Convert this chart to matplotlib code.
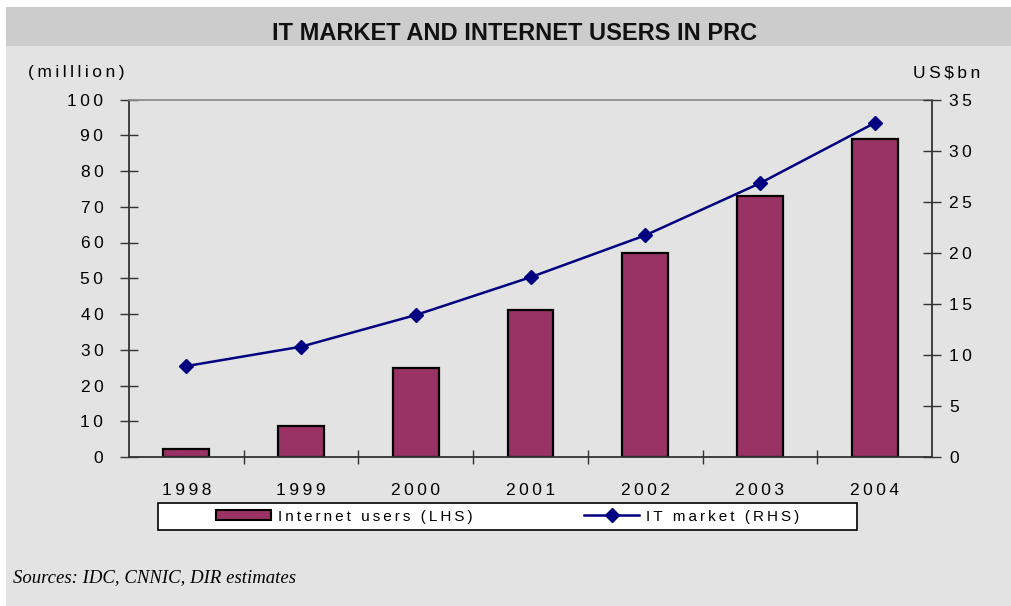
import numpy as np
import matplotlib
matplotlib.use("Agg")
import matplotlib.pyplot as plt
from matplotlib.patches import Rectangle
from matplotlib.lines import Line2D
from matplotlib.ticker import FixedLocator

years = ["1998", "1999", "2000", "2001", "2002", "2003", "2004"]
internet_users = [2.3, 8.7, 25.0, 41.0, 57.0, 73.0, 89.0]   # million, LHS
it_market = [8.9, 10.8, 13.9, 17.6, 21.7, 26.8, 32.7]       # US$bn, RHS
lhs_ticks = [0, 10, 20, 30, 40, 50, 60, 70, 80, 90, 100]
rhs_ticks = [0, 5, 10, 15, 20, 25, 30, 35]

plt.rcParams['font.family'] = ['Liberation Sans', 'DejaVu Sans']

BAR_COLOR = "#993366"
LINE_COLOR = "#000080"
BG = "#e3e3e3"


def spaced(s, sep="\u2009"):
    # old Excel charts draw text with wide letter spacing
    return sep.join(list(s))


fig = plt.figure(figsize=(10.12, 6.06), dpi=100, facecolor="white")
W, H = 1012, 606

# panel background and title band
fig.patches.append(Rectangle((6 / W, 0), 1 - 6 / W, (H - 7) / H, transform=fig.transFigure,
                             facecolor=BG, edgecolor="none", zorder=-10))
fig.patches.append(Rectangle((6 / W, (H - 46) / H), 1 - 6 / W, 39 / H, transform=fig.transFigure,
                             facecolor="#cccccc", edgecolor="none", zorder=-9))
fig.text(0.508, (H - 33) / H, "IT MARKET AND INTERNET USERS IN PRC", ha="center", va="center",
         fontsize=17, fontweight="bold", color="#111111")

ax = fig.add_axes([129 / W, (H - 457) / H, (932 - 129) / W, (457 - 99.5) / H])
ax.patch.set_alpha(0)
x = np.arange(len(years))

ax.bar(x, internet_users, width=0.4, color=BAR_COLOR, edgecolor="black", linewidth=1.6, zorder=2)
ax.set_xlim(-0.5, len(years) - 0.5)
ax.set_ylim(0, 100)
ax.set_yticks(lhs_ticks)
ax.set_yticklabels([spaced(str(t)) for t in lhs_ticks], fontsize=12.5)
ax.set_xticks(x)
ax.set_xticklabels([spaced(y) for y in years], fontsize=12.5)
ax.tick_params(axis="x", which="major", length=0, pad=19)
ax.xaxis.set_minor_locator(FixedLocator(x[:-1] + 0.5))
ax.tick_params(axis="x", which="minor", direction="inout", length=9.5, width=1, color="#333333")
ax.tick_params(axis="y", direction="inout", length=13, width=1, color="#333333", pad=12)

for side in ["left", "bottom", "right"]:
    ax.spines[side].set_color("#333333")
    ax.spines[side].set_linewidth(1.3)
ax.spines["top"].set_color("#8c8c8c")
ax.spines["top"].set_linewidth(1.3)

ax2 = ax.twinx()
ax2.plot(x, it_market, color=LINE_COLOR, linewidth=1.8, marker="D", markersize=7, zorder=3)
ax2.set_ylim(0, 35)
ax2.set_yticks(rhs_ticks)
ax2.set_yticklabels([spaced(str(t)) for t in rhs_ticks], fontsize=12.5)
ax2.tick_params(axis="y", direction="inout", length=13, width=1, color="#333333", pad=6)
for side in ["left", "bottom", "top", "right"]:
    ax2.spines[side].set_visible(False)

fig.text(28 / W, (H - 73) / H, spaced("(milllion)"), ha="left", va="center", fontsize=12.5)
fig.text(980 / W, (H - 73) / H, spaced("US$bn"), ha="right", va="center", fontsize=12.5)

# legend box
fig.patches.append(Rectangle((158 / W, (H - 530) / H), (857 - 158) / W, 27 / H, transform=fig.transFigure,
                             facecolor="white", edgecolor="black", linewidth=1.2, zorder=1))
handles = [Rectangle((0, 0), 1, 1, facecolor=BAR_COLOR, edgecolor="black", linewidth=1.5),
           Line2D([0], [0], color=LINE_COLOR, linewidth=1.8, marker="D", markersize=7)]
labels = [spaced("Internet users (LHS)"), spaced("IT market (RHS)")]
fig.legend(handles, labels, loc="center", bbox_to_anchor=(508 / W, (H - 516.5) / H), ncol=2,
           frameon=False, fontsize=11, handlelength=3.6, handleheight=0.65, handletextpad=0.45,
           columnspacing=7.3)

fig.text(13 / W, (H - 578) / H, "Sources: IDC, CNNIC, DIR estimates", ha="left", va="center",
         fontsize=13.5, style="italic", family="Liberation Serif")

fig.savefig("out.png", dpi=100, facecolor=fig.get_facecolor())
